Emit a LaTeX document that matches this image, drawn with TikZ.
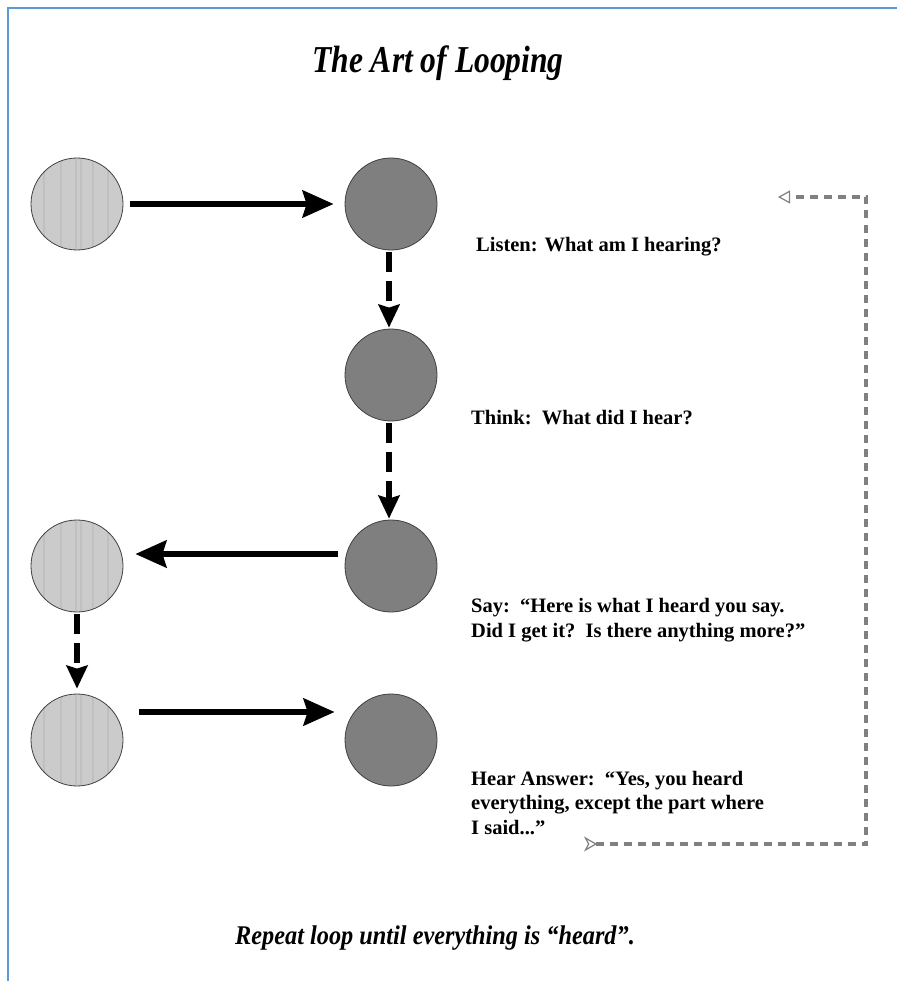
\documentclass[tikz,border=0pt]{standalone}
\usepackage{fontspec}
\setmainfont{Liberation Serif}
\usetikzlibrary{arrows.meta}
\definecolor{lightfill}{HTML}{CBCBCB}
\definecolor{stripe}{HTML}{C0C0C0}
\definecolor{darkfill}{HTML}{7F7F7F}
\definecolor{framecol}{HTML}{5B9BD5}
\definecolor{loopcol}{HTML}{808080}
\begin{document}
\begin{tikzpicture}[x=1pt,y=-1pt,
  lightc/.style={circle, draw=black!75, line width=0.8pt, fill=lightfill, minimum size=92pt, inner sep=0pt,
    path picture={\foreach \s in {-33,-16,-1,4,16,31}
      \draw[stripe,line width=1.4pt] ([xshift=\s pt,yshift=-50pt]path picture bounding box.center) -- ++(0,-100);}},
  darkc/.style={circle, draw=black!75, line width=0.8pt, fill=darkfill, minimum size=92pt, inner sep=0pt},
  solidarrow/.style={line width=6pt, -{Stealth[length=31pt,width=27pt,inset=4pt]}},
  dasharrow/.style={line width=6pt, dash pattern=on 20pt off 9pt, -{Stealth[length=23pt,width=21pt,inset=3pt]}},
  loopline/.style={loopcol, line width=3.2pt, dash pattern=on 8pt off 6pt,
    {Stealth[open,reversed,length=13pt,width=15pt,inset=4pt,line width=1.2pt]}-{Triangle[open,length=12pt,width=13pt,line width=1.2pt]}},
  txt/.style={font=\fontsize{20.5}{24.5}\selectfont\bfseries, anchor=west, align=left, inner sep=0pt},
  ttl/.style={font=\fontsize{38}{44}\selectfont\bfseries\itshape, inner sep=0pt},
  foottxt/.style={font=\fontsize{27}{32}\selectfont\bfseries\itshape, inner sep=0pt}
]
\useasboundingbox (0,0) rectangle (897,981);
\fill[white] (0,0) rectangle (897,981);
\draw[framecol, line width=2.5pt] (8,981) -- (8,8) -- (897,8);

\node[ttl] (title) at (438,63) {\scalebox{0.83}[1]{The Art of Looping}};

\node[lightc] (c1) at (77,204) {};
\node[darkc]  (c2) at (391,204) {};
\node[darkc]  (c3) at (391,375) {};
\node[darkc]  (c4) at (391,566) {};
\node[lightc] (c5) at (77,566) {};
\node[lightc] (c6) at (77,740) {};
\node[darkc]  (c7) at (391,740) {};

\draw[solidarrow, shorten <=7pt, shorten >=11pt] (c1.east) -- (c2.west);
\draw[dasharrow, shorten <=2pt, shorten >=1pt] ([xshift=-2pt]c2.south) -- ([xshift=-2pt]c3.north);
\draw[dasharrow, shorten <=2pt, shorten >=1pt] ([xshift=-2pt]c3.south) -- ([xshift=-2pt]c4.north);
\draw[solidarrow, shorten <=7pt, shorten >=12pt] ([yshift=12pt]c4.west) -- ([yshift=12pt]c5.east);
\draw[dasharrow, shorten <=2pt, shorten >=5pt] (c5.south) -- (c6.north);
\draw[solidarrow, shorten <=16pt, shorten >=10pt] ([yshift=28pt]c6.east) -- ([yshift=28pt]c7.west);

\node[txt] (t1) at (476,247) {Listen: What am I hearing?};
\node[txt] (t2) at (471,418) {Think:\ \ What did I hear?};
\node[txt] (t3) at (471,620) {Say:\ \ “Here is what I heard you say.\\Did I get it?\ \ Is there anything more?”};
\node[txt] (t4) at (471,803) {Hear Answer:\ \ “Yes, you heard\\everything, except the part where\\I said...”};

\coordinate (l1) at (584,844);
\coordinate (l2) at (866,844);
\coordinate (l3) at (866,197);
\coordinate (l4) at (778,197);
\draw[loopline] (l1) -- (l2) -- (l3) -- (l4);

\node[foottxt] (foot) at (435,938) {\scalebox{0.9}[1]{Repeat loop until everything is “heard”.}};
\end{tikzpicture}
\end{document}
